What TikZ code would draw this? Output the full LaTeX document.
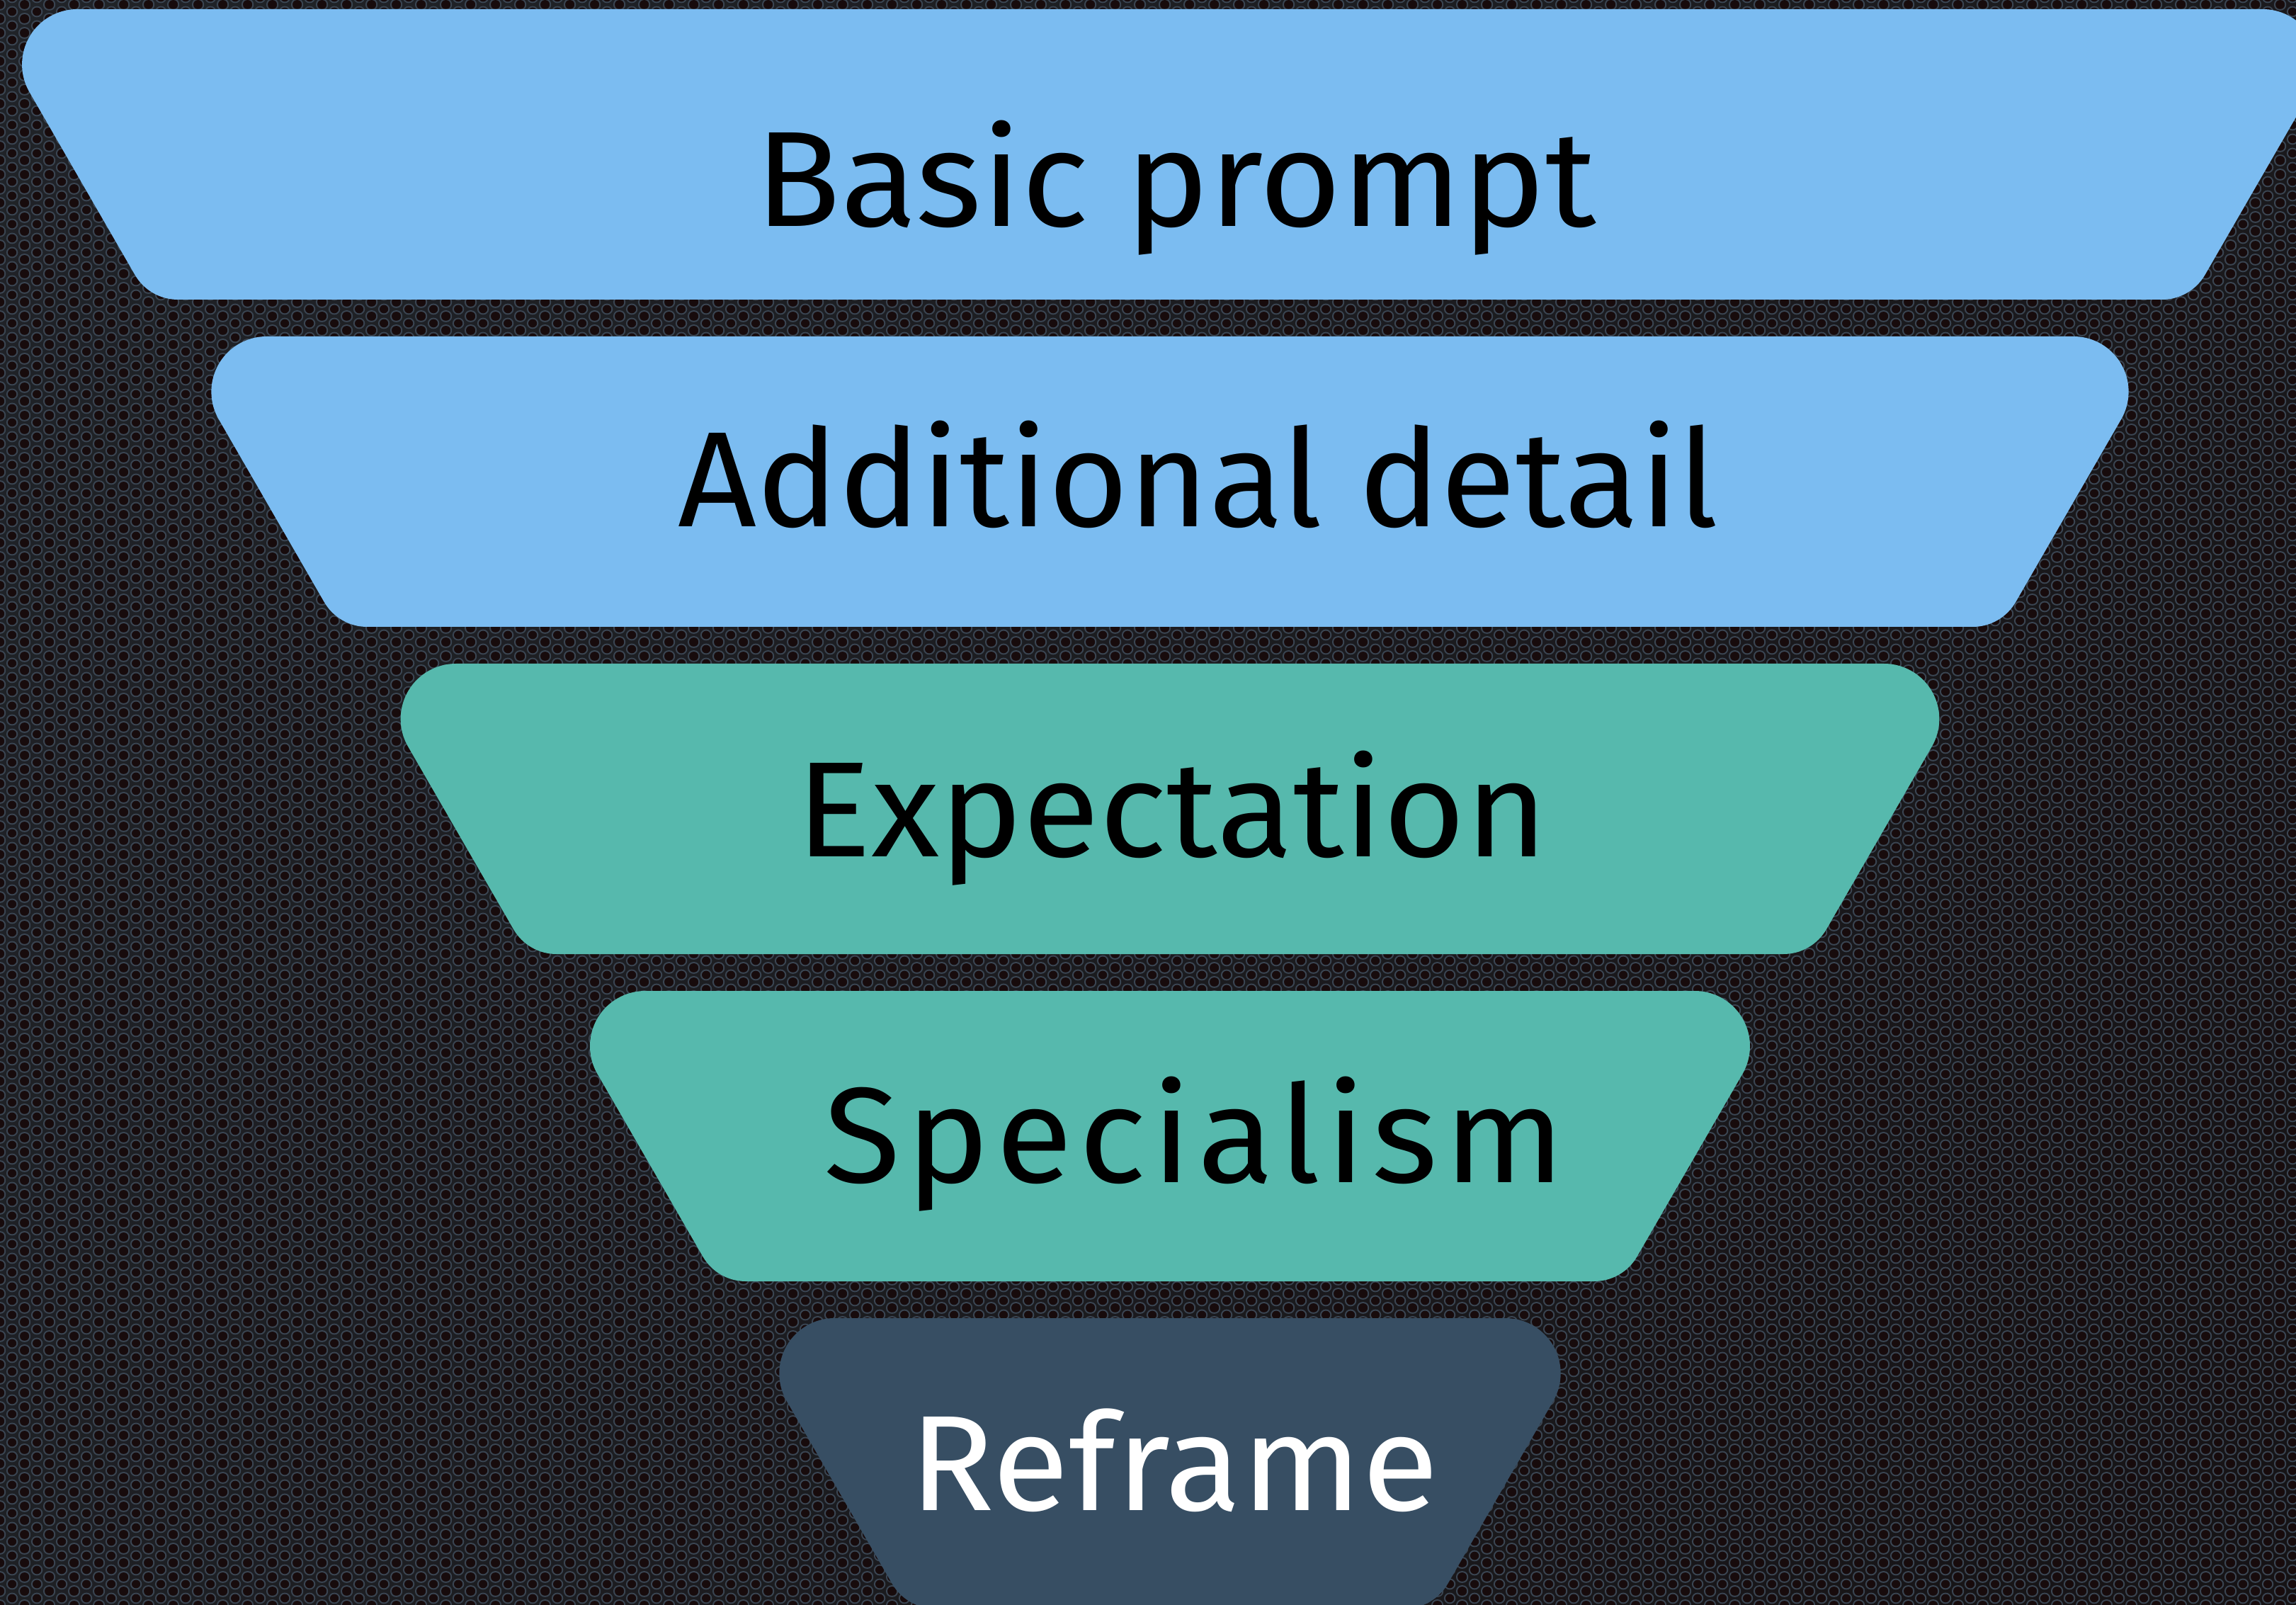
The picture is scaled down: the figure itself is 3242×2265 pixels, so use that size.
\documentclass[tikz,border=0pt]{standalone}
\usepackage{fontspec}
\setmainfont{Fira Sans}
\usetikzlibrary{patterns,shadings}
\definecolor{funnelblue}{HTML}{7BBCF1}
\definecolor{funnelteal}{HTML}{56B9AD}
\definecolor{funnelslate}{HTML}{374E63}
\definecolor{metalbaseA}{HTML}{202328}
\definecolor{metalbaseB}{HTML}{161315}
\definecolor{metalring}{HTML}{3A4552}
\definecolor{metalhole}{HTML}{170B0C}
% hexagonal perforation (1px = 0.01cm): columns 17.3px apart, 20px pitch in a column
\pgfdeclarepatternformonly{hexrings}{\pgfpointorigin}{\pgfqpoint{9.84pt}{5.69pt}}{\pgfqpoint{9.84pt}{5.69pt}}{%
  \pgfpathcircle{\pgfqpoint{0pt}{0pt}}{2.36pt}%
  \pgfpathcircle{\pgfqpoint{9.84pt}{0pt}}{2.36pt}%
  \pgfpathcircle{\pgfqpoint{0pt}{5.69pt}}{2.36pt}%
  \pgfpathcircle{\pgfqpoint{9.84pt}{5.69pt}}{2.36pt}%
  \pgfpathcircle{\pgfqpoint{4.92pt}{2.845pt}}{2.36pt}%
  \pgfusepath{fill}}
\pgfdeclarepatternformonly{hexholes}{\pgfpointorigin}{\pgfqpoint{9.84pt}{5.69pt}}{\pgfqpoint{9.84pt}{5.69pt}}{%
  \pgfpathcircle{\pgfqpoint{0pt}{0pt}}{1.75pt}%
  \pgfpathcircle{\pgfqpoint{9.84pt}{0pt}}{1.75pt}%
  \pgfpathcircle{\pgfqpoint{0pt}{5.69pt}}{1.75pt}%
  \pgfpathcircle{\pgfqpoint{9.84pt}{5.69pt}}{1.75pt}%
  \pgfpathcircle{\pgfqpoint{4.92pt}{2.845pt}}{1.75pt}%
  \pgfusepath{fill}}
% one funnel level: #1 top Y, #2 top half-width (sharp vertex), #3 colour
\newcommand{\funnelstep}[3]{%
  \pgfmathsetmacro{\fsH}{#2}%
  \pgfmathsetmacro{\fsh}{#2-236.7}%
  \pgfmathsetmacro{\fsB}{#1-410}%
  \fill[#3] (1652-\fsH+135.1,#1) -- (1652+\fsH-135.1,#1)
    arc[start angle=90,end angle=-30,radius=78]
    -- (1652+\fsh+20.2,\fsB+35)
    arc[start angle=-30,end angle=-90,radius=70]
    -- (1652-\fsh+40.4,\fsB)
    arc[start angle=-90,end angle=-150,radius=70]
    -- (1652-\fsH+67.55,#1-117)
    arc[start angle=210,end angle=90,radius=78]
    -- cycle;
}
\tikzset{
  lbl/.style={anchor=base, inner sep=0pt, font=\fontsize{54.5pt}{60pt}\selectfont},
}
\begin{document}
\begin{tikzpicture}[x=0.01cm,y=0.01cm]
\useasboundingbox (0,0) rectangle (3242,2265);
\clip (0,0) rectangle (3242,2265);
% textured dark background
\shade[upper left=metalbaseA, upper right=metalbaseB!60!metalbaseA, lower left=metalbaseA!80!metalbaseB, lower right=metalbaseB] (0,0) rectangle (3242,2265);
\fill[pattern=hexrings, pattern color=metalring] (0,0) rectangle (3242,2265);
\fill[pattern=hexholes, pattern color=metalhole] (0,0) rectangle (3242,2265);
% funnel
\funnelstep{2252}{1678}{funnelblue}
\funnelstep{1790}{1410.7}{funnelblue}
\funnelstep{1328}{1143.4}{funnelteal}
\funnelstep{866}{876.1}{funnelteal}
\funnelstep{404}{608.8}{funnelslate}
% labels
\node[lbl] (basic) at (1660,1945) {\scalebox{1.036}[1]{Basic prompt}};
\node[lbl] (additional) at (1692,1521) {\scalebox{1.012}[1]{Additional detail}};
\node[lbl] (expectation) at (1655,1056) {\scalebox{1.035}[1]{Expectation}};
\node[lbl] (specialism) at (1686,596) {\scalebox{1.035}[1]{\addfontfeature{LetterSpace=4.4}Specialism}};
\node[lbl, text=white] (reframe) at (1658,133) {\scalebox{1.034}[1]{Reframe}};
\end{tikzpicture}
\end{document}
